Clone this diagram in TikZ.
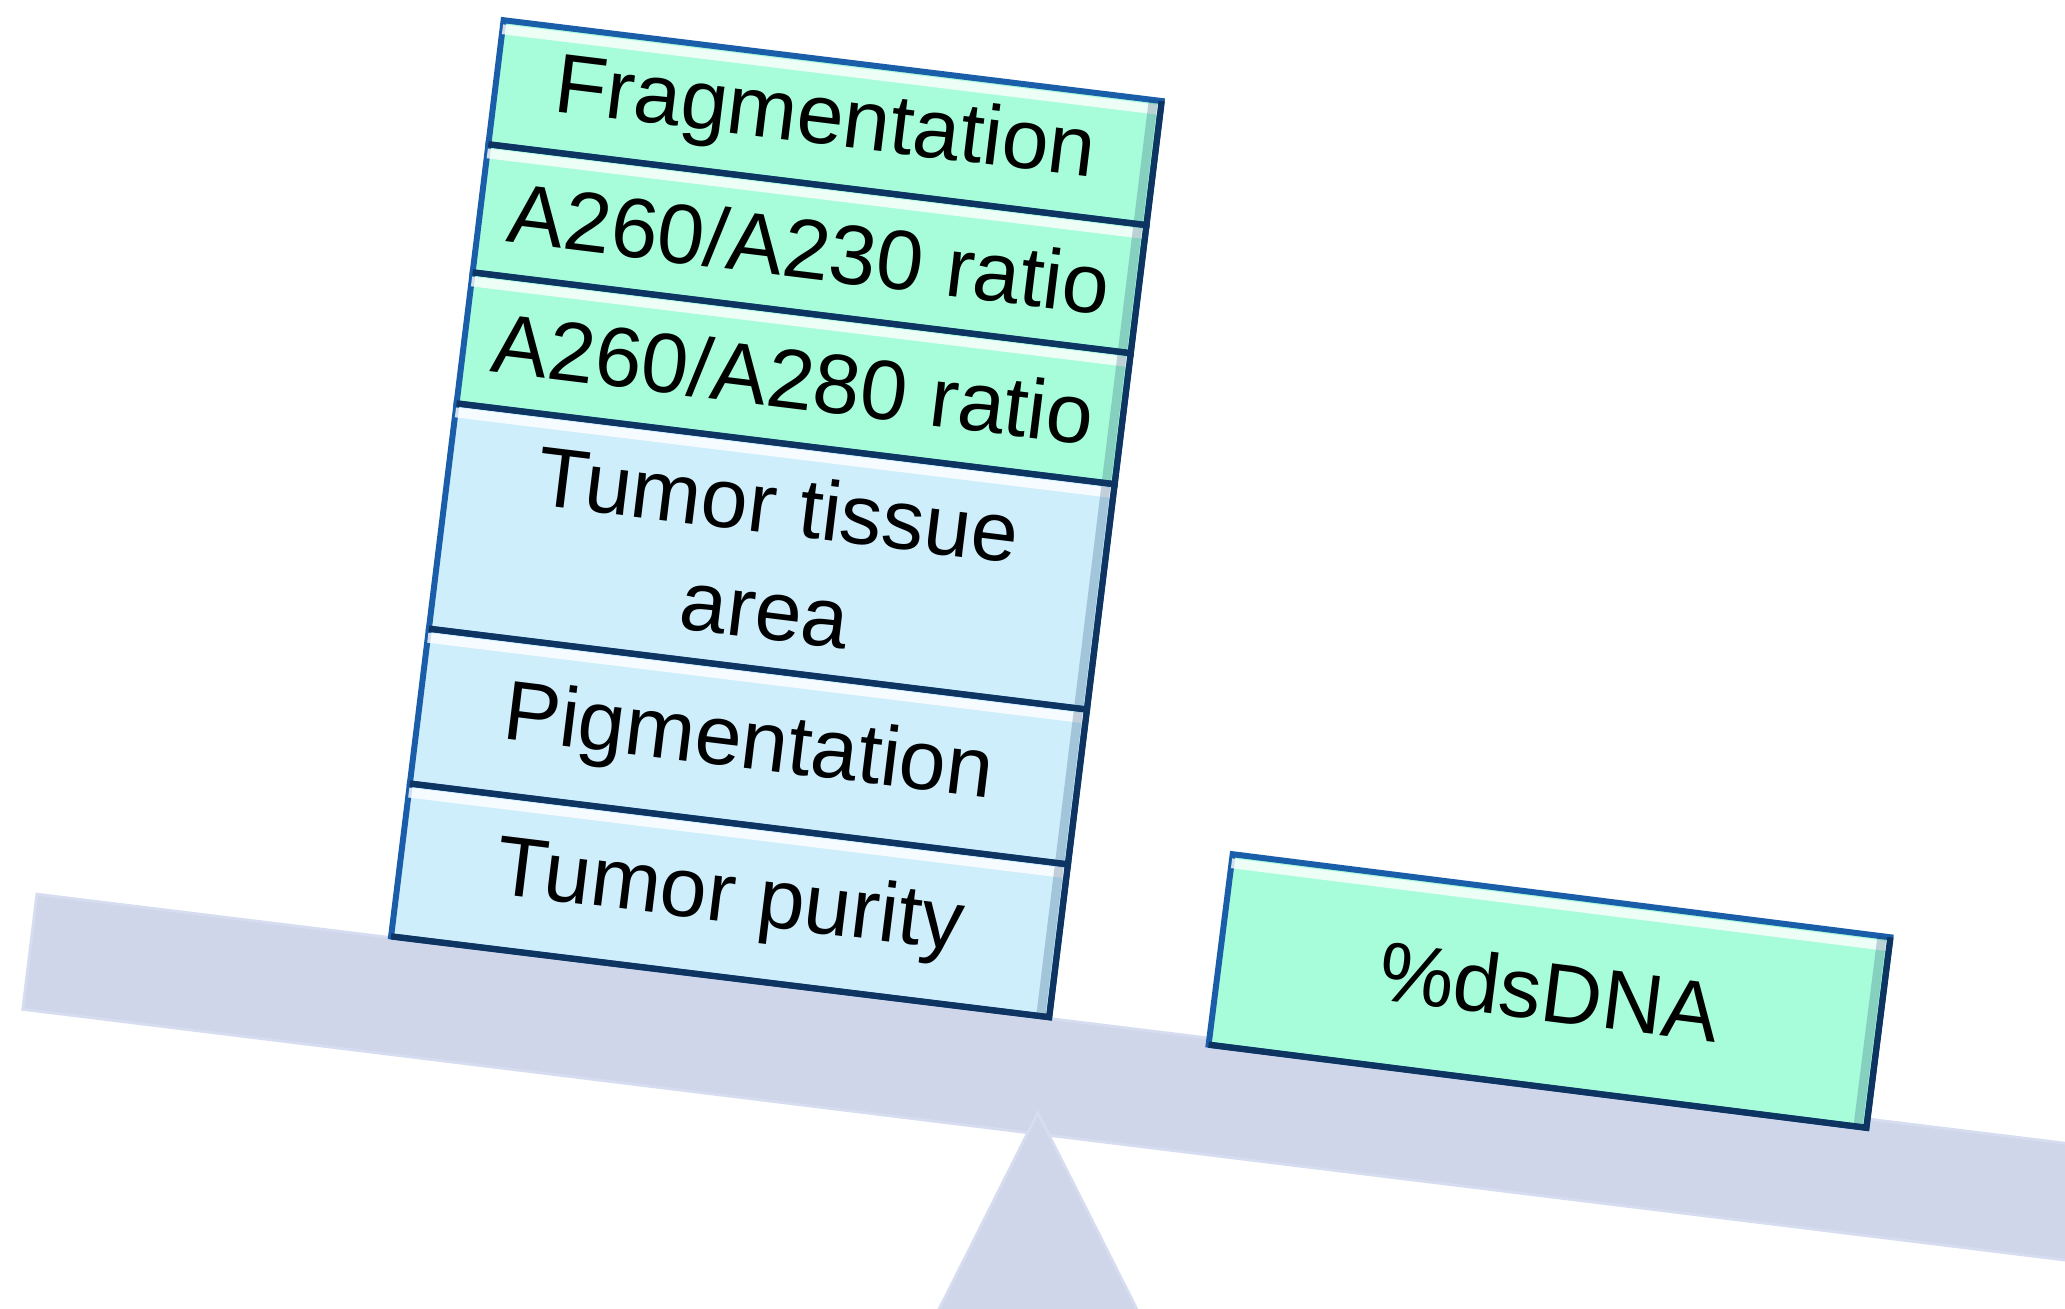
\documentclass[tikz,border=0pt]{standalone}
\usepackage{fontspec}
\setmainfont{Liberation Sans}
\usetikzlibrary{positioning,calc}
\definecolor{beamgrey}{RGB}{207,214,233}
\definecolor{beamrim}{RGB}{214,221,240}
\definecolor{qcgreen}{RGB}{167,252,218}
\definecolor{tissueblue}{RGB}{206,238,252}
\definecolor{boxedge}{RGB}{26,94,170}
\definecolor{boxshadow}{RGB}{14,52,98}
\tikzset{
  card/.style={draw=boxedge, line width=1.7pt, minimum width=6.63cm, inner sep=0pt, outer sep=0pt, align=center, font=\fontsize{24}{30}\selectfont},
  qcbox/.style={card, fill=qcgreen},
  tissuebox/.style={card, fill=tissueblue},
  glint/.style={white, line width=2.8pt, opacity=0.8},
  shade/.style={boxshadow, line width=2.6pt, opacity=0.22},
  rim/.style={boxshadow, line width=1.8pt},
}
\begin{document}
\begin{tikzpicture}
\useasboundingbox (0,0) rectangle (20.65,13.09);
\clip (0,0) rectangle (20.65,13.09);
% lever and fulcrum
\begin{scope}[shift={(0.369,4.148)}, rotate=-7]
\fill[beamgrey, draw=beamrim, line width=0.8pt] (0,0) rectangle (22,-1.16);
\end{scope}
\fill[beamgrey, draw=beamrim, line width=0.8pt] (10.378,1.961) -- (9.14,-0.5) -- (11.62,-0.5) -- cycle;
% stack on the heavy side
\begin{scope}[shift={(3.911,3.726)}, rotate=-7, transform shape]
\node[tissuebox, minimum height=1.54cm, anchor=south west] (purity) at (0,0) {Tumor purity};
\node[tissuebox, minimum height=1.56cm, above=0pt of purity] (pigment) {Pigmentation};
\node[tissuebox, minimum height=2.27cm, above=0pt of pigment] (tissue) {Tumor tissue\\area};
\node[qcbox, minimum height=1.32cm, above=0pt of tissue] (ratioB) {A260/A280 ratio};
\node[qcbox, minimum height=1.29cm, above=0pt of ratioB] (ratioA) {A260/A230 ratio};
\node[qcbox, minimum height=1.25cm, above=0pt of ratioA] (frag) {Fragmentation};
\end{scope}
% single box on the light side
\node[qcbox, minimum height=1.92cm, rotate=-7.2] (dsdna) at (15.495,3.18) {\%dsDNA};
% bevel edges
\foreach \n in {purity,pigment,tissue,ratioB,ratioA,frag,dsdna}{
  \draw[glint] ($(\n.north west)!2.6pt!(\n.south west)$) -- ($(\n.north east)!2.6pt!(\n.south east)$);
  \draw[shade] ($(\n.north east)!2.4pt!(\n.north west)$) -- ($(\n.south east)!2.4pt!(\n.south west)$);
  \draw[rim] (\n.south west) -- (\n.south east) -- (\n.north east);
}
\end{tikzpicture}
\end{document}
